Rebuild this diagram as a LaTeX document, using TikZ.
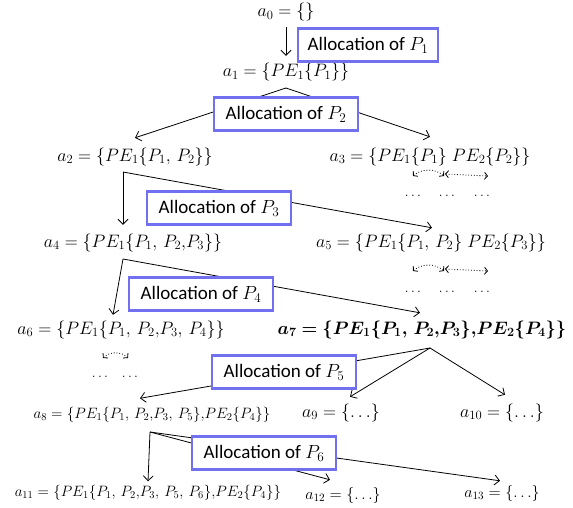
\documentclass[tikz,border=0pt]{standalone}
\usepackage{fix-cm}
\usepackage{amsmath}
\usepackage{bm}
\usepackage[no-math]{fontspec}
\newfontfamily\carlito{Carlito}
\usetikzlibrary{arrows.meta,bending}
\definecolor{boxblue}{RGB}{112,112,240}
\begin{document}
\begin{tikzpicture}[x=1pt,y=-1pt,
  st/.style={inner sep=0pt, text height=13pt, text depth=5pt, font=\fontsize{18}{20}\selectfont},
  sm/.style={inner sep=0pt, text height=11pt, text depth=4pt, font=\fontsize{15}{18}\selectfont},
  md/.style={inner sep=0pt, text height=12pt, text depth=4pt, font=\fontsize{16}{18}\selectfont},
  dots/.style={inner sep=0pt, font=\fontsize{14}{16}\selectfont},
  alloc/.style={draw=boxblue, line width=2.2pt, fill=white, inner sep=0pt,
    minimum width=144pt, minimum height=33pt, font=\carlito\fontsize{19}{22}\selectfont},
  conn/.style={line width=0.8pt, -{Straight Barb[length=5pt,width=10pt]}},
  dconn/.style={line width=0.8pt, dotted, {Straight Barb[length=3pt,width=7pt,flex]}-{Straight Barb[length=3pt,width=7pt,flex]}}
]
\useasboundingbox (0,0) rectangle (573,508);

% states
\node[st] (a0) at (286,13) {$a_0 = \{\}$};
\node[st] (a1) at (286,73) {$a_1 = \{PE_1\{P_1\}\}$};
\node[st] (a2) at (135,157) {$a_2 = \{PE_1\{P_1,\,P_2\}\}$};
\node[st] (a3) at (430,157) {$a_3 = \{PE_1\{P_1\}\;PE_2\{P_2\}\}$};
\node[st] (a4) at (133,243) {$a_4 = \{PE_1\{P_1,\,P_2{,}P_3\}\}$};
\node[st] (a5) at (431,243) {$a_5 = \{PE_1\{P_1,\,P_2\}\;PE_2\{P_3\}\}$};
\node[st] (a6) at (121,330) {$a_6 = \{PE_1\{P_1,\,P_2{,}P_3,\,P_4\}\}$};
\node[st] (a7) at (422,330) {$\bm{a_7 = \{PE_1\{P_1,\,P_2{,}P_3\}{,}PE_2\{P_4\}\}}$};
\node[sm] (a8) at (152,415) {$a_8 = \{PE_1\{P_1,\,P_2{,}P_3,\,P_5\}{,}PE_2\{P_4\}\}$};
\node[st] (a9) at (341,413) {$a_9 = \{\ldots\}$};
\node[st] (a10) at (502,413) {$a_{10} = \{\ldots\}$};
\node[sm] (a11) at (148,493) {$a_{11} = \{PE_1\{P_1,\,P_2{,}P_3,\,P_5,\,P_6\}{,}PE_2\{P_4\}\}$};
\node[md] (a12) at (343,495) {$a_{12} = \{\ldots\}$};
\node[md] (a13) at (502,493) {$a_{13} = \{\ldots\}$};

% unexplored branches
\node[dots] (d1) at (413,196) {$\ldots$};
\node[dots] (d2) at (447,196) {$\ldots$};
\node[dots] (d3) at (482,196) {$\ldots$};
\node[dots] (d4) at (413,292) {$\ldots$};
\node[dots] (d5) at (447,292) {$\ldots$};
\node[dots] (d6) at (482,292) {$\ldots$};
\node[dots] (d7) at (100,377) {$\ldots$};
\node[dots] (d8) at (130,377) {$\ldots$};

\coordinate (s1) at (413,176); \coordinate (s2) at (444,176); \coordinate (s3) at (488,176);
\coordinate (s4) at (413,271); \coordinate (s5) at (444,271); \coordinate (s6) at (488,271);
\coordinate (s7) at (103,358); \coordinate (s8) at (128,358);
\draw[dconn] (s1) .. controls +(9,-8) and +(-9,-8) .. (s2);
\draw[dconn] ([xshift=1pt,yshift=2pt]s2) -- (s3);
\draw[dconn] (s4) .. controls +(9,-8) and +(-9,-8) .. (s5);
\draw[dconn] ([xshift=1pt,yshift=2pt]s5) -- (s6);
\draw[dconn] (s7) .. controls +(7,-7) and +(-7,-7) .. (s8);

% branching points
\coordinate (t1) at (286,88);
\coordinate (t2) at (123,172);
\coordinate (t4) at (123,259);
\coordinate (t7) at (430,348);
\coordinate (t8) at (150,432);

% connectors
\draw[conn] ([yshift=-5pt]a0.south) -- ([yshift=8pt]a1.north);
\draw[conn] (t1) -- ([yshift=10pt]a2.north);
\draw[conn] (t1) -- ([yshift=11pt]a3.north);
\draw[conn] (t2) -- ([xshift=-10pt,yshift=9pt]a4.north);
\draw[conn] (t2) -- ([xshift=1pt,yshift=6pt]a5.north);
\draw[conn] (t4) -- ([xshift=-8pt,yshift=6pt]a6.north);
\draw[conn] (t4) -- ([xshift=-2pt,yshift=8pt]a7.north);
\draw[conn] (t7) -- ([xshift=-12pt,yshift=9pt]a8.north);
\draw[conn] (t7) -- ([xshift=9pt,yshift=7pt]a9.north);
\draw[conn] (t7) -- ([xshift=3pt,yshift=9pt]a10.north);
\draw[conn] (t8) -- ([yshift=4pt]a11.north);
\draw[conn] (t8) -- ([xshift=-13pt,yshift=7pt]a12.north);
\draw[conn] (t8) -- ([xshift=-2pt,yshift=4pt]a13.north);

% allocation labels
\node[alloc, minimum width=140pt] (b1) at (368,45) {Allocation of $P_1$};
\node[alloc] (b2) at (286,114) {Allocation of $P_2$};
\node[alloc] (b3) at (219,208) {Allocation of $P_3$};
\node[alloc] (b4) at (201,294) {Allocation of $P_4$};
\node[alloc] (b5) at (284,372) {Allocation of $P_5$};
\node[alloc] (b6) at (264,453) {Allocation of $P_6$};
\end{tikzpicture}
\end{document}
